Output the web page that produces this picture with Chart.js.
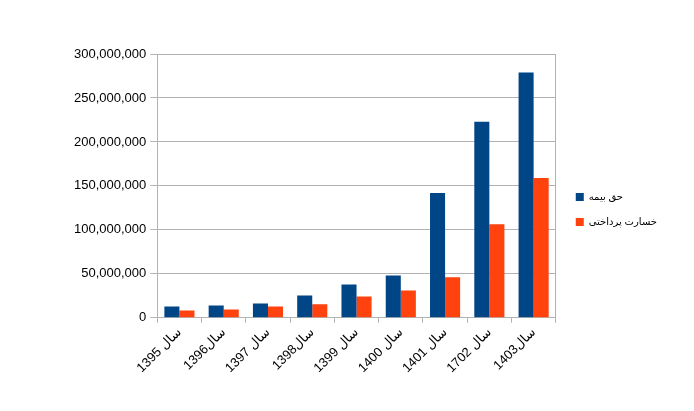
<!DOCTYPE html>
<html>
<head>
<meta charset="utf-8">
<script src="https://cdn.jsdelivr.net/npm/chart.js@4.4.1/dist/chart.umd.min.js"></script>
<style>
html,body{margin:0;padding:0;background:#fff;}
#wrap{width:694px;height:411px;}
</style>
</head>
<body>
<div id="wrap"><canvas id="c" width="694" height="411"></canvas></div>
<script>
const categories = ['سال 1395','سال1396','سال 1397','سال1398','سال 1399','سال 1400','سال 1401','سال 1702','سال1403'];
const seriesNames = ['حق بیمه','خسارت پرداختی'];
const premium = [12.8e6, 14.0e6, 16.2e6, 25.3e6, 37.8e6, 48.0e6, 141.9e6, 223.0e6, 279.0e6];
const claims = [8.3e6, 9.4e6, 12.8e6, 15.5e6, 24.2e6, 31.0e6, 46.0e6, 106.5e6, 159.0e6];
const yTicks = [0, 50e6, 100e6, 150e6, 200e6, 250e6, 300e6];

const FONT = "'Liberation Sans', 'DejaVu Sans', Arial, sans-serif";
const grid = '#b3b3b3';

new Chart(document.getElementById('c'), {
  type: 'bar',
  data: {
    labels: categories,
    datasets: [
      {label: seriesNames[0], data: premium, backgroundColor: '#004586', categoryPercentage: 0.68, barPercentage: 1.0},
      {label: seriesNames[1], data: claims, backgroundColor: '#ff420e', categoryPercentage: 0.68, barPercentage: 1.0}
    ]
  },
  options: {
    responsive: false,
    animation: false,
    devicePixelRatio: 1,
    layout: {padding: {left: 70, right: 27, top: 54, bottom: 33}},
    plugins: {
      legend: {
        position: 'right',
        align: 'start',
        maxWidth: 220,
        title: {display: true, text: ' ', font: {size: 10}, padding: {top: 111, bottom: 0}},
        labels: {
          boxWidth: 8, boxHeight: 8, padding: 15,
          color: '#000', font: {family: FONT, size: 10}
        }
      },
      tooltip: {enabled: false}
    },
    scales: {
      x: {
        offset: true,
        grid: {display: true, drawOnChartArea: false, color: grid, tickLength: 5, offset: true},
        border: {color: grid},
        ticks: {
          minRotation: 45, maxRotation: 45, autoSkip: false,
          color: '#000', font: {family: FONT, size: 13}, padding: 2
        }
      },
      y: {
        min: 0, max: 300e6,
        afterBuildTicks: (axis) => { axis.ticks = yTicks.map(v => ({value: v})); },
        grid: {color: grid, tickLength: 7},
        border: {color: grid},
        ticks: {
          color: '#000', font: {family: FONT, size: 13}, padding: 4,
          callback: (v) => Number(v).toLocaleString('en-US')
        }
      },
      y2: {
        position: 'right',
        min: 0, max: 300e6,
        grid: {display: false},
        border: {display: true, color: grid},
        ticks: {display: false},
        afterFit: (axis) => { axis.width = 5; }
      }
    }
  }
});
</script>
</body>
</html>
